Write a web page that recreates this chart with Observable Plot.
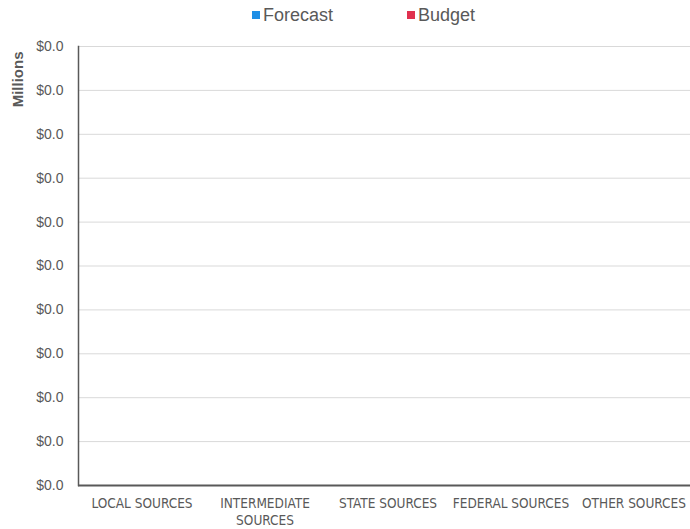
<!DOCTYPE html>
<html>
<head>
<meta charset="utf-8">
<script src="https://cdn.jsdelivr.net/npm/d3@7"></script>
<script src="https://cdn.jsdelivr.net/npm/@observablehq/plot@0.6"></script>
<style>
  html, body { margin: 0; padding: 0; background: #fff; }
  body { width: 690px; height: 529px; overflow: hidden; }
  #legend { position: relative; height: 30px; font-family: Arial, "Liberation Sans", sans-serif; font-size: 18px; color: #595959; }
  #legend .item { position: absolute; top: 5px; display: flex; align-items: center; line-height: 20px; white-space: nowrap; }
  #legend .sw { width: 8px; height: 8px; margin-right: 3px; }
  #chart svg { display: block; }
</style>
</head>
<body>
<div id="legend"></div>
<div id="chart"></div>
<script>
// Revenue sources on the x axis
const categories = ["LOCAL SOURCES", "INTERMEDIATE SOURCES", "STATE SOURCES", "FEDERAL SOURCES", "OTHER SOURCES"];
// Series names and their colours
const series = ["Forecast", "Budget"];
const seriesColors = ["#1e8fe6", "#e0314f"];
// Amounts in millions of dollars
const forecastValues = [0, 0, 0, 0, 0];
const budgetValues = [0, 0, 0, 0, 0];
// Y axis ticks (millions)
const yTicks = [0, 0.001, 0.002, 0.003, 0.004, 0.005, 0.006, 0.007, 0.008, 0.009, 0.010];

const rows = categories.flatMap((category, i) => [
  {category, series: series[0], value: forecastValues[i]},
  {category, series: series[1], value: budgetValues[i]}
]);

// Legend
const legend = d3.select("#legend");
const legendLeft = [252, 407];
series.forEach((name, i) => {
  const item = legend.append("div").attr("class", "item").style("left", legendLeft[i] + "px");
  item.append("div").attr("class", "sw").style("background", seriesColors[i]);
  item.append("span").text(name);
});

const money = d => "$" + d.toFixed(1);
const wrap = d => d === "INTERMEDIATE SOURCES" ? "INTERMEDIATE\nSOURCES" : d;

// The plot area runs a few pixels past the right edge of the page
const chart = Plot.plot({
  width: 690,
  height: 499,
  marginLeft: 78,
  marginRight: -6,
  marginTop: 16,
  marginBottom: 44,
  style: {fontFamily: "Arial, 'Liberation Sans', sans-serif", fontSize: "14px", color: "#595959", background: "#fff", overflow: "hidden"},
  x: {domain: categories, padding: 0, axis: null},
  y: {domain: [0, 0.01], axis: null},
  color: {domain: series, range: seriesColors},
  marks: [
    Plot.gridY(yTicks, {stroke: "#d9d9d9", strokeOpacity: 1, strokeWidth: 1}),
    // Forecast bar in the left half of each band, Budget in the right half
    Plot.barY(rows.filter(d => d.series === series[0]), {x: "category", y: "value", fill: "series", insetLeft: 22, insetRight: 62}),
    Plot.barY(rows.filter(d => d.series === series[1]), {x: "category", y: "value", fill: "series", insetLeft: 62, insetRight: 22}),
    Plot.axisY(yTicks, {tickSize: 0, tickPadding: 15, tickFormat: money, fontSize: 14, label: null, fill: "#595959"}),
    Plot.axisX({tickSize: 0, tickPadding: 11, tickFormat: wrap, fontSize: 13.5, lineHeight: 1.25, fontFamily: "'Liberation Sans Narrow', 'DejaVu Sans Condensed', sans-serif", label: null, fill: "#595959"}),
    Plot.frame({anchor: "left", stroke: "#595959", strokeWidth: 1.5}),
    Plot.ruleY([0], {stroke: "#595959", strokeWidth: 2}),
    Plot.text(["Millions"], {frameAnchor: "top-left", rotate: -90, textAnchor: "end", dx: -66, dy: 5, fontWeight: "bold", fontSize: 15, fill: "#595959"})
  ]
});
document.getElementById("chart").append(chart);
</script>
</body>
</html>
